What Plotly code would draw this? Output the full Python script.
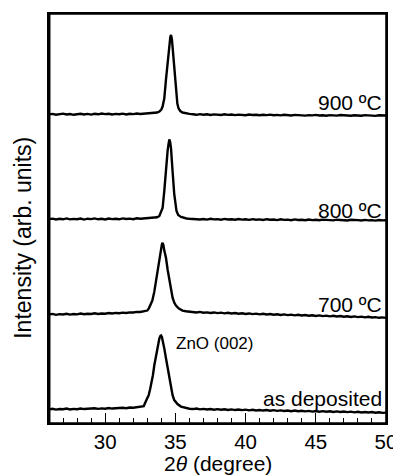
import plotly.graph_objects as go

# ---- data: 2theta (degree) vs stacked intensity (arb. units) ----
X_LEFT = [26.0, 26.25, 26.5, 26.75, 27.0, 27.25, 27.5, 27.75, 28.0, 28.25, 28.5, 28.75,
          29.0, 29.25, 29.5, 29.75, 30.0, 30.25, 30.5, 30.75, 31.0, 31.25, 31.5, 31.75,
          32.0, 32.25, 32.5, 32.75]
X_RIGHT = [36.25, 36.5, 36.75, 37.0, 37.25, 37.5, 37.75, 38.0, 38.25, 38.5, 38.75, 39.0,
           39.25, 39.5, 39.75, 40.0, 40.25, 40.5, 40.75, 41.0, 41.25, 41.5, 41.75, 42.0,
           42.25, 42.5, 42.75, 43.0, 43.25, 43.5, 43.75, 44.0, 44.25, 44.5, 44.75, 45.0,
           45.25, 45.5, 45.75, 46.0, 46.25, 46.5, 46.75, 47.0, 47.25, 47.5, 47.75, 48.0,
           48.25, 48.5, 48.75, 49.0, 49.25, 49.5, 49.75, 50.0]

# 900 C
y900_left = [310.1, 310.6, 309.8, 310.4, 310.9, 310.0, 310.5, 309.7, 310.3, 310.8,
             310.1, 310.6, 309.9, 310.7, 310.2, 311.0, 310.4, 310.8, 310.0, 310.6,
             310.3, 310.9, 310.1, 310.7, 310.4, 311.0, 310.5, 310.9]
x900_peak = [33.0, 33.25, 33.5, 33.7, 33.86, 34.0, 34.09, 34.21, 34.33, 34.45, 34.57, 34.64,
             34.69, 34.75, 34.8, 34.92, 35.04, 35.14, 35.23, 35.35, 35.51, 35.75, 36.0]
y900_peak = [310.6, 311.1, 311.4, 312.0, 313, 315, 318, 326, 345, 365, 382, 388,
             390, 386, 378, 355, 331, 321, 316, 313.5, 312, 311, 310.6]
y900_right = [310.2, 309.7, 310.4, 309.8, 310.3, 309.6, 310.1, 309.9, 309.5, 310.2,
              309.6, 310.0, 309.4, 309.9, 309.7, 309.3, 310.0, 309.5, 309.8, 309.2,
              309.7, 309.4, 309.9, 309.3, 309.6, 309.1, 309.7, 309.4, 309.0, 309.6,
              309.2, 309.5, 308.9, 309.4, 309.1, 309.6, 309.0, 309.3, 308.8, 309.4,
              309.1, 308.9, 309.5, 309.0, 309.2, 308.7, 309.3, 309.0, 308.8, 309.4,
              308.9, 309.1, 308.6, 309.2, 308.8, 309.0]

# 800 C
y800_left = [204.9, 205.4, 204.5, 205.2, 204.7, 205.6, 204.6, 205.1, 204.8, 205.5,
             204.4, 205.3, 204.9, 205.6, 204.7, 205.2, 204.6, 205.5, 204.9, 205.3,
             204.7, 205.6, 205.0, 205.4, 204.8, 205.7, 205.2, 205.5]
x800_peak = [33.0, 33.25, 33.5, 33.7, 33.86, 34.0, 34.09, 34.21, 34.33, 34.45, 34.52, 34.57,
             34.63, 34.69, 34.8, 34.92, 35.08, 35.2, 35.4, 35.6, 35.8, 36.0]
y800_peak = [205.3, 205.7, 206.0, 206.8, 208, 212, 216, 233, 256, 274, 281, 285,
             282, 276, 253, 230, 213, 209, 207, 206, 205.5, 205.2]
y800_right = [204.9, 205.3, 204.5, 205.0, 204.4, 205.2, 204.6, 204.9, 204.3, 205.1,
              204.5, 204.8, 204.2, 205.0, 204.4, 204.7, 204.1, 204.9, 204.3, 204.6,
              204.0, 204.8, 204.2, 204.5, 203.9, 204.7, 204.1, 204.4, 203.8, 204.6,
              204.0, 204.3, 203.8, 204.5, 203.9, 204.2, 203.7, 204.4, 203.9, 204.1,
              203.6, 204.3, 203.8, 204.0, 203.5, 204.2, 203.7, 203.9, 203.5, 204.1,
              203.6, 203.9, 203.4, 204.0, 203.6, 203.8]

# 700 C
y700_left = [109.0, 109.6, 108.7, 109.4, 109.1, 109.8, 108.9, 109.5, 109.2, 110.0,
             109.3, 109.8, 109.5, 110.2, 109.6, 110.1, 109.8, 110.5, 110.0, 110.6,
             110.3, 110.9, 110.6, 111.2, 111.0, 111.7, 111.5, 112.2]
x700_peak = [33.0, 33.12, 33.24, 33.36, 33.5, 33.62, 33.75, 33.86, 33.98, 34.04, 34.09, 34.15,
             34.2, 34.33, 34.45, 34.57, 34.68, 34.8, 34.92, 35.04, 35.25, 35.51, 35.75, 36.0]
y700_peak = [113, 115.5, 118.5, 123, 132, 143, 155, 166, 176, 179.5, 181, 178.5,
             174, 166, 154, 143, 134, 126, 121, 118, 115, 113, 112.3, 111.8]
y700_right = [111.5, 111.0, 111.6, 110.8, 111.2, 110.6, 111.1, 110.4, 110.9, 110.2,
              110.7, 110.0, 110.5, 109.8, 110.3, 109.6, 110.1, 109.4, 109.9, 109.2,
              109.7, 109.0, 109.5, 108.8, 109.3, 108.6, 109.1, 108.4, 108.9, 108.2,
              108.7, 108.0, 108.5, 107.8, 108.3, 107.6, 108.1, 107.4, 107.9, 107.2,
              107.7, 107.0, 107.5, 106.8, 107.3, 106.6, 107.1, 106.4, 106.9, 106.2,
              106.7, 106.0, 106.4, 105.7, 106.1, 105.6]

# as deposited
ydep_left = [13.7, 14.3, 13.5, 14.1, 13.8, 14.5, 13.6, 14.2, 13.9, 14.6,
             14.0, 14.4, 14.1, 14.8, 14.2, 14.7, 14.4, 15.0, 14.5, 14.9,
             14.7, 15.3, 14.9, 15.5, 15.3, 15.9, 16.2, 17.0]
xdep_peak = [33.0, 33.1, 33.2, 33.3, 33.4, 33.5, 33.62, 33.74, 33.86, 33.93, 33.98, 34.04,
             34.1, 34.21, 34.33, 34.45, 34.57, 34.69, 34.8, 34.92, 35.15, 35.4, 35.75, 36.0]
ydep_peak = [25, 28, 34, 40, 48, 58, 68, 78, 85, 87.5, 88, 86.5,
             83, 75, 65, 55, 45, 35, 28, 23, 19, 16.5, 15, 14.3]
ydep_right = [14.0, 14.5, 13.7, 14.2, 13.6, 14.1, 13.4, 13.9, 13.3, 13.8,
              13.1, 13.7, 13.0, 13.5, 12.9, 13.4, 12.7, 13.3, 12.6, 13.1,
              12.5, 13.0, 12.3, 12.9, 12.2, 12.7, 12.1, 12.6, 11.9, 12.5,
              11.8, 12.3, 11.7, 12.2, 11.5, 12.1, 11.4, 11.9, 11.3, 11.8,
              11.1, 11.7, 11.0, 11.5, 10.9, 11.4, 10.7, 11.3, 10.6, 11.1,
              10.5, 11.0, 10.3, 10.8, 10.2, 10.4]

labels = ["900 ºC", "800 ºC", "700 ºC", "as deposited"]
label_y = [322, 214, 119, 25]
peak_label = "ZnO (002)"
peak_label_pos = (34.92, 80)
x_ticks = [30, 35, 40, 45, 50]

FONT = "Liberation Sans, Arial, sans-serif"

series = [
    (y900_left, x900_peak, y900_peak, y900_right),
    (y800_left, x800_peak, y800_peak, y800_right),
    (y700_left, x700_peak, y700_peak, y700_right),
    (ydep_left, xdep_peak, ydep_peak, ydep_right),
]

fig = go.Figure()
for yl, xp, yp, yr in series:
    xs = X_LEFT + xp + X_RIGHT
    ys = yl + yp + yr
    assert len(xs) == len(ys)
    fig.add_trace(go.Scatter(x=xs, y=ys, mode="lines", cliponaxis=True,
                             line=dict(color="black", width=2.4), showlegend=False))

for t, yy in zip(labels, label_y):
    fig.add_annotation(x=0.995, xref="paper", y=yy, yref="y", text=t, showarrow=False,
                       xanchor="right", yanchor="middle",
                       font=dict(family=FONT, size=21, color="black"))

fig.add_annotation(x=peak_label_pos[0], y=peak_label_pos[1], text=peak_label, showarrow=False,
                   xanchor="left", yanchor="middle",
                   font=dict(family=FONT, size=17, color="black"))

fig.add_annotation(x=-0.077, xref="paper", xanchor="center", y=0.453, yref="paper",
                   yanchor="middle", text="Intensity (arb. units)", textangle=-90,
                   showarrow=False, font=dict(family=FONT, size=23, color="black"))

fig.add_annotation(x=0.5, xref="paper", xanchor="center", y=-0.0985, yref="paper",
                   yanchor="middle", text="2<i>θ</i> (degree)", showarrow=False,
                   font=dict(family=FONT, size=21, color="black"))

# plot frame
fig.add_shape(type="rect", xref="paper", yref="paper", x0=0, x1=1, y0=0, y1=1,
              line=dict(color="black", width=1.6), fillcolor="rgba(0,0,0,0)", layer="above")
fig.add_shape(type="line", xref="paper", yref="paper", x0=0.002, x1=0.002, y0=0, y1=1,
              line=dict(color="black", width=1.6), layer="above")

# the page body has an 8 px margin, so the figure is sized to end at the window edge
fig.update_layout(
    width=393, height=467,
    margin=dict(l=41, r=13, t=4, b=52),
    paper_bgcolor="white", plot_bgcolor="white",
    font=dict(family=FONT, size=20, color="black"),
    xaxis=dict(range=[26, 50], tickvals=x_ticks, ticks="inside", ticklen=10, tickwidth=1.3,
               tickcolor="black", showline=True, linecolor="black", linewidth=1.5, mirror=True,
               showgrid=False, zeroline=False,
               minor=dict(dtick=1, ticks="inside", ticklen=5, tickwidth=1.2, tickcolor="black"),
               tickfont=dict(family=FONT, size=20.5)),
    yaxis=dict(range=[0, 411], showticklabels=False, ticks="", showline=True,
               linecolor="black", linewidth=1.5, mirror=True, showgrid=False, zeroline=False),
)

fig.write_html("out.html")
